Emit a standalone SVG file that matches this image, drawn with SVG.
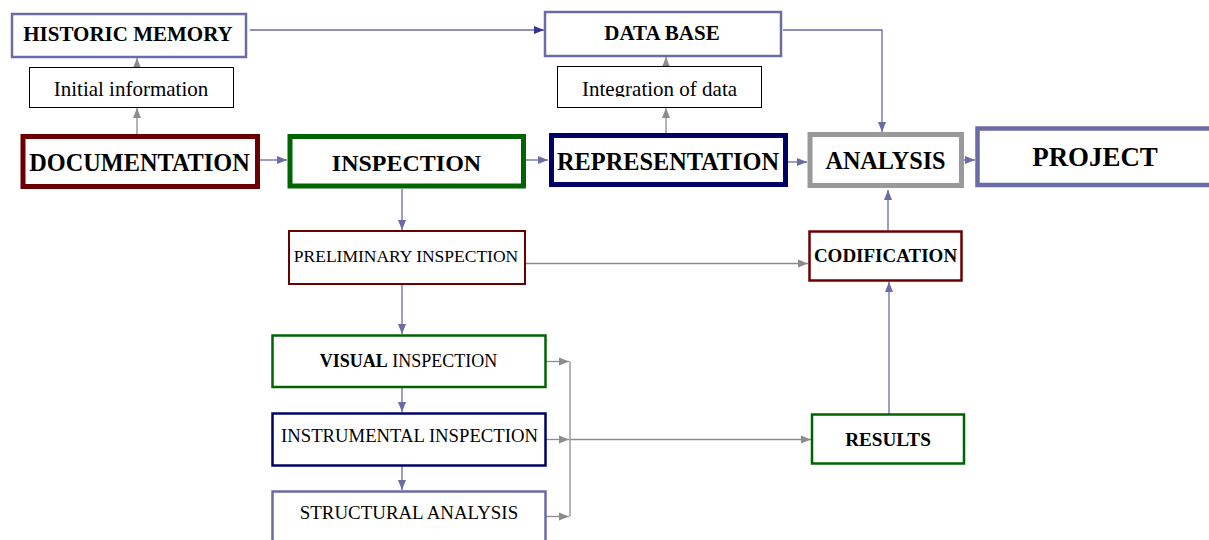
<svg xmlns="http://www.w3.org/2000/svg" width="1209" height="540" viewBox="0 0 1209 540">
  <style>
    text { font-family: "Liberation Serif", "Times New Roman", serif; fill: #000; text-anchor: middle; }
    .b { font-weight: bold; }
    .box { fill: #fff; }
    .slate { stroke: #6b6ba5; }
    .red { stroke: #6b0000; }
    .green { stroke: #006400; }
    .navy { stroke: #000066; }
    .grey { stroke: #999999; }
    .blk { stroke: #000; stroke-width: 1; }
    .ln { fill: none; stroke-width: 1.3; }
    .lb { stroke: #6b6ba5; }
    .lg { stroke: #8c8c8c; }
  </style>
  <defs>
    <marker id="ab" viewBox="0 0 10 10" refX="10" refY="5" markerWidth="10" markerHeight="10" markerUnits="userSpaceOnUse" orient="auto">
      <path d="M0,1 L10,5 L0,9 z" fill="#6b6ba5"/>
    </marker>
    <marker id="ad" viewBox="0 0 10 10" refX="10" refY="5" markerWidth="10" markerHeight="10" markerUnits="userSpaceOnUse" orient="auto">
      <path d="M0,1 L10,5 L0,9 z" fill="#333399"/>
    </marker>
    <marker id="ag" viewBox="0 0 10 10" refX="10" refY="5" markerWidth="10" markerHeight="10" markerUnits="userSpaceOnUse" orient="auto">
      <path d="M0,1 L10,5 L0,9 z" fill="#8c8c8c"/>
    </marker>
    <clipPath id="clipInt">
      <rect x="557" y="66" width="205" height="31"/>
    </clipPath>
  </defs>

  <!-- connectors -->
  <g id="connectors">
    <line class="ln lg" x1="137" y1="134" x2="137" y2="108" marker-end="url(#ag)"/>
    <line class="ln lg" x1="137" y1="67" x2="137" y2="58" marker-end="url(#ag)"/>
    <line class="ln lb" x1="250" y1="30" x2="544" y2="30" marker-end="url(#ad)"/>
    <line class="ln lg" x1="666" y1="133" x2="666" y2="108" marker-end="url(#ag)"/>
    <line class="ln lg" x1="666" y1="66" x2="666" y2="57" marker-end="url(#ag)"/>
    <polyline class="ln lb" points="783,30 882,30 882,132" marker-end="url(#ab)"/>
    <line class="ln lb" x1="260" y1="160" x2="287" y2="160" marker-end="url(#ab)"/>
    <line class="ln lb" x1="526" y1="160" x2="548" y2="160" marker-end="url(#ab)"/>
    <line class="ln lb" x1="788" y1="162" x2="807" y2="162" marker-end="url(#ab)"/>
    <line class="ln lb" x1="964" y1="160" x2="975" y2="160" marker-end="url(#ab)"/>
    <line class="ln lb" x1="402" y1="189" x2="402" y2="230" marker-end="url(#ab)"/>
    <line class="ln lb" x1="402" y1="285" x2="402" y2="334" marker-end="url(#ab)"/>
    <line class="ln lb" x1="402" y1="388" x2="402" y2="412" marker-end="url(#ab)"/>
    <line class="ln lb" x1="402" y1="466" x2="402" y2="490" marker-end="url(#ab)"/>
    <line class="ln lg" x1="525" y1="263.5" x2="808" y2="263.5" marker-end="url(#ag)"/>
    <line class="ln lb" x1="888" y1="230" x2="888" y2="190" marker-end="url(#ab)"/>
    <line class="ln lb" x1="889" y1="414" x2="889" y2="282" marker-end="url(#ab)"/>
    <line class="ln lg" x1="546" y1="361.5" x2="569" y2="361.5" marker-end="url(#ag)"/>
    <line class="ln lg" x1="546" y1="439.5" x2="569" y2="439.5" marker-end="url(#ag)"/>
    <line class="ln lg" x1="546" y1="516.5" x2="569" y2="516.5" marker-end="url(#ag)"/>
    <line class="ln lg" x1="570" y1="361.5" x2="570" y2="516.5"/>
    <line class="ln lg" x1="570" y1="439.5" x2="811" y2="439.5" marker-end="url(#ag)"/>
  </g>

  <g id="historic-memory">
    <rect class="box slate" x="12" y="14" width="234" height="43" stroke-width="2.5"/>
    <text class="b" x="128" y="40.5" font-size="21">HISTORIC MEMORY</text>
  </g>
  <g id="initial-information">
    <rect class="box blk" x="29.5" y="67.5" width="204" height="40"/>
    <text x="131" y="96" font-size="21">Initial information</text>
  </g>
  <g id="data-base">
    <rect class="box slate" x="545" y="12" width="236" height="44" stroke-width="2.5"/>
    <text class="b" x="662" y="39.5" font-size="21">DATA BASE</text>
  </g>
  <g id="integration-of-data">
    <rect class="box blk" x="557.5" y="66.5" width="204" height="41"/>
    <text x="659.5" y="96" font-size="21" clip-path="url(#clipInt)">Integration of data</text>
  </g>
  <g id="documentation">
    <rect class="box red" x="23" y="136.5" width="234.5" height="50" stroke-width="5"/>
    <text class="b" x="139.5" y="171" font-size="24.3">DOCUMENTATION</text>
  </g>
  <g id="inspection">
    <rect class="box green" x="290" y="136.5" width="233.5" height="49.5" stroke-width="5"/>
    <text class="b" x="406.5" y="171" font-size="24">INSPECTION</text>
  </g>
  <g id="representation">
    <rect class="box navy" x="551.5" y="135.5" width="234" height="49" stroke-width="5"/>
    <text class="b" x="668" y="169.5" font-size="24.3">REPRESENTATION</text>
  </g>
  <g id="analysis">
    <rect class="box grey" x="810" y="134.5" width="151.5" height="51" stroke-width="5"/>
    <text class="b" x="885.5" y="168.5" font-size="24.2">ANALYSIS</text>
  </g>
  <g id="project">
    <rect class="box slate" x="977.5" y="128.5" width="240" height="56.5" stroke-width="4.5"/>
    <text class="b" x="1095" y="165.5" font-size="26.9">PROJECT</text>
  </g>
  <g id="preliminary-inspection">
    <rect class="box red" x="289" y="231" width="236" height="53" stroke-width="2"/>
    <text x="406" y="262" font-size="17.5">PRELIMINARY INSPECTION</text>
  </g>
  <g id="codification">
    <rect class="box red" x="809.5" y="231.5" width="152" height="49" stroke-width="2.5"/>
    <text class="b" x="885.5" y="262" font-size="19">CODIFICATION</text>
  </g>
  <g id="visual-inspection">
    <rect class="box green" x="272.5" y="335.5" width="273" height="51.5" stroke-width="2.5"/>
    <text x="408.5" y="367" font-size="18"><tspan class="b">VISUAL</tspan> INSPECTION</text>
  </g>
  <g id="instrumental-inspection">
    <rect class="box navy" x="272.5" y="413.5" width="273" height="52" stroke-width="2.5"/>
    <text x="409.5" y="442" font-size="18.7">INSTRUMENTAL INSPECTION</text>
  </g>
  <g id="structural-analysis">
    <rect class="box slate" x="272.5" y="491.5" width="273" height="60" stroke-width="2.5"/>
    <text x="409" y="518.5" font-size="18.9">STRUCTURAL ANALYSIS</text>
  </g>
  <g id="results">
    <rect class="box green" x="812" y="414.5" width="152" height="49" stroke-width="2.5"/>
    <text class="b" x="888" y="445.5" font-size="19.2">RESULTS</text>
  </g>
</svg>
